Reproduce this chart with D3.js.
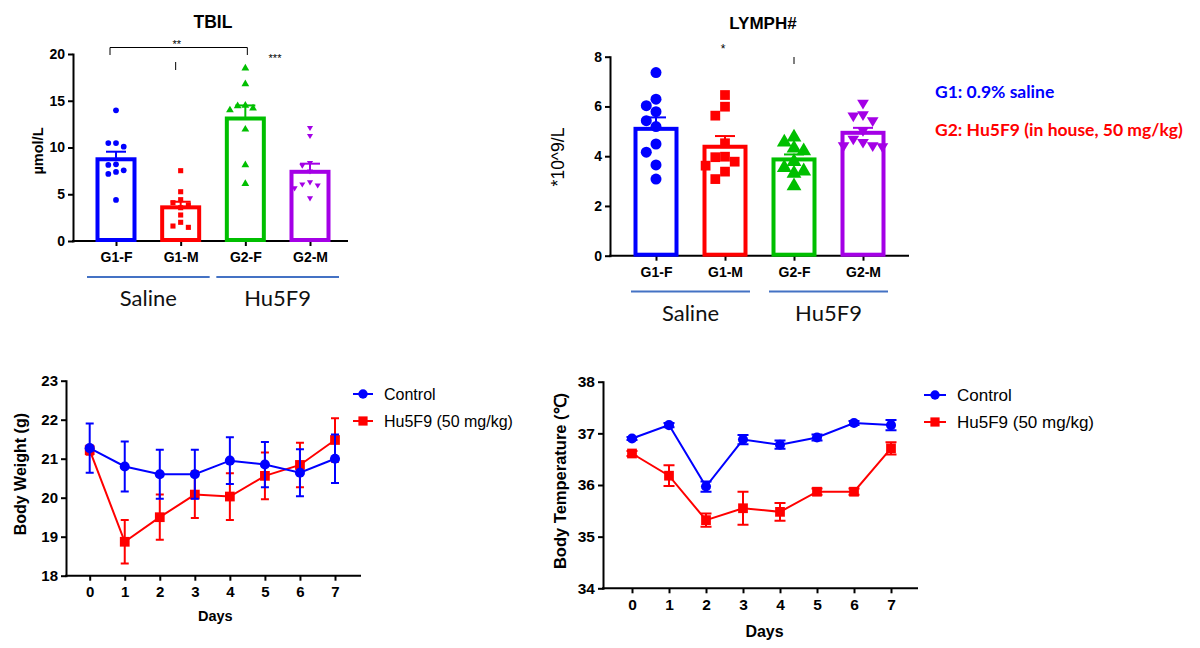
<!DOCTYPE html>
<html><head><meta charset="utf-8">
<script src="https://cdn.jsdelivr.net/npm/d3@7/dist/d3.min.js"></script>
<style>body{margin:0;background:#fff}svg{display:block}</style>
</head><body>
<svg id="c" width="1200" height="648"></svg>
<script>
// ---------- DATA ----------
const groups = ["G1-F", "G1-M", "G2-F", "G2-M"];
const treatGroups = ["Saline", "Hu5F9"];

const tbilMean = [8.74, 3.6, 13.1, 7.4];
const tbilSemTop = [9.55, 4.2, 14.5, 8.27];
const tbilG1F = [13.98, 10.48, 10.48, 10.09, 8.13, 8.2, 7.38, 7.56, 7.17, 4.39];
const tbilG1M = [7.52, 5.27, 4.42, 3.85, 4.1, 3.56, 2.78, 2.0, 1.6, 1.46];
const tbilG2F = [18.47, 16.79, 14.5, 14.44, 14.0, 14.19, 11.94, 8.13, 6.13];
const tbilG2M = [12.05, 11.2, 8.3, 8.02, 7.41, 6.02, 6.24, 5.91, 5.6, 4.53];
const tbilTicks = [0, 5, 10, 15, 20];

const lymMean = [5.1, 4.38, 3.87, 4.94];
const lymSemTop = [5.56, 4.81, 4.07, 5.14];
const lymG1F = [7.36, 6.03, 6.29, 5.79, 5.43, 5.19, 4.49, 4.16, 3.65, 3.08];
const lymG1M = [6.46, 5.99, 5.63, 4.52, 3.98, 3.62, 3.96, 3.08, 3.78, 3.38];
const lymG2F = [4.56, 4.76, 4.32, 4.21, 3.78, 3.54, 3.4, 3.31, 2.8];
const lymG2M = [6.09, 5.39, 5.58, 5.63, 4.99, 4.65, 4.38, 4.38, 4.52, 4.34];
const lymTicks = [0, 2, 4, 6, 8];

const days = [0, 1, 2, 3, 4, 5, 6, 7];
const seriesNames = ["Control", "Hu5F9 (50 mg/kg)"];
const bwControl = [21.27, 20.8, 20.6, 20.6, 20.95, 20.85, 20.64, 21.0];
const bwControlSem = [0.63, 0.64, 0.63, 0.63, 0.6, 0.58, 0.6, 0.62];
const bwHu5F9 = [21.22, 18.87, 19.5, 20.08, 20.03, 20.56, 20.84, 21.48];
const bwHu5F9Sem = [0.12, 0.56, 0.58, 0.6, 0.6, 0.6, 0.57, 0.56];
const bwTicks = [18, 19, 20, 21, 22, 23];

const tempControl = [36.9, 37.16, 35.97, 36.88, 36.78, 36.92, 37.2, 37.16];
const tempControlSem = [0.03, 0.04, 0.1, 0.09, 0.08, 0.06, 0.04, 0.1];
const tempHu5F9 = [36.61, 36.18, 35.32, 35.55, 35.48, 35.87, 35.87, 36.71];
const tempHu5F9Sem = [0.05, 0.2, 0.13, 0.32, 0.17, 0.06, 0.06, 0.12];
const tempTicks = [34, 35, 36, 37, 38];

const noteG1 = "G1: 0.9% saline";
const noteG2 = "G2: Hu5F9 (in house, 50 mg/kg)";

// ---------- STYLE ----------
const groupColors = ["#0000ff", "#ff0000", "#00bf00", "#a400e6"];
const lineColors = ["#0000ff", "#ff0000"];
const AX = "'Liberation Sans', Arial, sans-serif";
const svg = d3.select("#c");

function triDown(size) {
  const p = d3.path(); const s = Math.sqrt(size);
  const h = s * 0.9;
  p.moveTo(-s * 0.6, -h * 0.5); p.lineTo(s * 0.6, -h * 0.5); p.lineTo(0, h * 0.6); p.closePath();
  return p.toString();
}
const shapes = [d3.symbolCircle, d3.symbolSquare, d3.symbolTriangle, null];
function symPath(i, size) {
  if (i === 3) return triDown(size);
  return d3.symbol().type(shapes[i]).size(size)();
}

function swarm(values, y, d, step) {
  const order = values.map((v, i) => i).sort((a, b) => values[b] - values[a]);
  const placed = [], xs = new Array(values.length);
  for (const i of order) {
    const py = y(values[i]);
    for (const k of [0, -1, 1, -2, 2, -3, 3, -4, 4]) {
      const px = k * step;
      if (placed.every(p => Math.hypot(p.x - px, p.y - py) >= d)) { xs[i] = px; placed.push({x: px, y: py}); break; }
    }
  }
  return xs;
}

function styleAxis(g, fs) {
  g.selectAll("path,line").attr("stroke", "#000").attr("stroke-width", 2);
  g.selectAll("text").attr("font-family", AX).attr("font-weight", "bold").attr("font-size", fs).attr("fill", "#000");
  g.select(".domain").attr("stroke-linecap", "square");
}

// ---------- BAR PANEL ----------
function barPanel(o) {
  const g = svg.append("g");
  const y = d3.scaleLinear().domain([o.ticks[0], o.ticks[o.ticks.length - 1]]).range([o.y0, o.y1]);
  const x = d3.scalePoint().domain(groups).range([o.c0, o.c1]);
  const ya = g.append("g").attr("transform", `translate(${o.ax},0)`)
    .call(d3.axisLeft(y).tickValues(o.ticks).tickSize(5).tickPadding(3).tickSizeOuter(0));
  styleAxis(ya, o.fs);
  const xa = g.append("g").attr("transform", `translate(0,${o.y0})`)
    .call(d3.axisBottom(x).tickSize(5).tickPadding(6).tickSizeOuter(0));
  xa.select(".domain").attr("d", `M${o.ax},0H${o.axEnd}`);
  styleAxis(xa, o.fs);
  o.means.forEach((m, i) => {
    const cx = x(groups[i]);
    g.append("rect").attr("x", cx - o.bw / 2 + 2).attr("y", y(m))
      .attr("width", o.bw - 4).attr("height", y(0) - y(m) - 1)
      .attr("fill", "none").attr("stroke", groupColors[i]).attr("stroke-width", 4);
  });
  o.pts.forEach((vals, i) => {
    const cx = x(groups[i]);
    const xs = swarm(vals, y, o.d, o.step);
    vals.forEach((v, j) => {
      g.append("path").attr("d", symPath(i, o.msize))
        .attr("transform", `translate(${cx + xs[j]},${y(v)})`).attr("fill", groupColors[i]);
    });
  });
  o.sems.forEach((s, i) => {
    const cx = x(groups[i]);
    g.append("line").attr("x1", cx).attr("x2", cx).attr("y1", y(o.means[i])).attr("y2", y(s))
      .attr("stroke", groupColors[i]).attr("stroke-width", 2);
    g.append("line").attr("x1", cx - 10).attr("x2", cx + 10).attr("y1", y(s)).attr("y2", y(s))
      .attr("stroke", groupColors[i]).attr("stroke-width", 2);
  });
  g.append("text").attr("x", o.tx).attr("y", o.ty).attr("text-anchor", "middle")
    .attr("font-family", AX).attr("font-weight", "bold").attr("font-size", o.tfs).text(o.title);
  g.append("text").attr("transform", `translate(${o.ylx},${o.yly}) rotate(-90)`).attr("text-anchor", "middle")
    .attr("font-family", AX).attr("font-weight", o.ylw).attr("font-size", o.ylfs).text(o.ylabel);
  [[0, 1], [2, 3]].forEach((pair, k) => {
    const xa0 = x(groups[pair[0]]) - o.lineExt, xa1 = x(groups[pair[1]]) + o.lineExt;
    g.append("line").attr("x1", xa0).attr("x2", xa1).attr("y1", o.ly).attr("y2", o.ly)
      .attr("stroke", "#4472c4").attr("stroke-width", 2);
    g.append("text").attr("x", (xa0 + xa1) / 2).attr("y", o.ly + 29).attr("text-anchor", "middle")
      .attr("font-family", "Lato, 'Open Sans', sans-serif").attr("font-size", 22).attr("fill", "#111").text(treatGroups[k]);
  });
  return {g, x, y};
}

const tb = barPanel({
  ticks: tbilTicks, y0: 241, y1: 54, ax: 73, axEnd: 347, c0: 116, c1: 310,
  means: tbilMean, sems: tbilSemTop, pts: [tbilG1F, tbilG1M, tbilG2F, tbilG2M],
  bw: 41, msize: 26, d: 6.2, step: 7.7, fs: 14, title: "TBIL", tx: 213, ty: 28, tfs: 17.5,
  ylabel: "µmol/L", ylx: 43, yly: 151, ylw: "bold", ylfs: 14.5, ly: 277, lineExt: 29
});
{
  const g = tb.g, x = tb.x;
  const xa = x("G1-F") - 6, xb = x("G2-F") + 2;
  g.append("path").attr("d", `M${xa},55V47.5H${xb}V55`).attr("fill", "none").attr("stroke", "#000").attr("stroke-width", 1);
  g.append("text").attr("x", (xa + xb) / 2 - 2).attr("y", 48).attr("text-anchor", "middle")
    .attr("font-family", AX).attr("font-size", 11).text("**");
  g.append("line").attr("x1", x("G1-M") - 5).attr("x2", x("G1-M") - 5).attr("y1", 62).attr("y2", 70).attr("stroke", "#000").attr("stroke-width", 1);
  g.append("text").attr("x", x("G2-M") - 35).attr("y", 62).attr("text-anchor", "middle")
    .attr("font-family", AX).attr("font-size", 11).text("***");
}

const ly = barPanel({
  ticks: lymTicks, y0: 255.7, y1: 56.7, ax: 610, axEnd: 908, c0: 656, c1: 863,
  means: lymMean, sems: lymSemTop, pts: [lymG1F, lymG1M, lymG2F, lymG2M],
  bw: 45, msize: 95, d: 9.5, step: 9.7, fs: 14, title: "LYMPH#", tx: 763, ty: 29, tfs: 17,
  ylabel: "*10^9/L", ylx: 564, yly: 157, ylw: "normal", ylfs: 17.5, ly: 291.5, lineExt: 25
});
{
  const g = ly.g, x = ly.x;
  g.append("text").attr("x", x("G1-M") - 2).attr("y", 53).attr("text-anchor", "middle")
    .attr("font-family", AX).attr("font-size", 12).text("*");
  g.append("line").attr("x1", x("G2-F")).attr("x2", x("G2-F")).attr("y1", 57).attr("y2", 64).attr("stroke", "#000").attr("stroke-width", 1);
}

svg.append("text").attr("x", 935).attr("y", 98).attr("font-family", "Lato, sans-serif").attr("font-weight", "bold")
  .attr("font-size", 17.5).attr("fill", "#0000ff").text(noteG1);
svg.append("text").attr("x", 935).attr("y", 136).attr("font-family", "Lato, sans-serif").attr("font-weight", "bold")
  .attr("font-size", 17.5).attr("fill", "#ff0000").text(noteG2);

// ---------- LINE PANEL ----------
function linePanel(o) {
  const g = svg.append("g");
  const x = d3.scaleLinear().domain([days[0], days[days.length - 1]]).range([o.x0, o.x1]);
  const y = d3.scaleLinear().domain([o.ticks[0], o.ticks[o.ticks.length - 1]]).range([o.yb, o.yt]);
  const ya = g.append("g").attr("transform", `translate(${o.ax},0)`)
    .call(d3.axisLeft(y).tickValues(o.ticks).tickFormat(d3.format("d")).tickSize(5).tickPadding(3).tickSizeOuter(0));
  styleAxis(ya, o.fs);
  const xa = g.append("g").attr("transform", `translate(0,${o.yb})`)
    .call(d3.axisBottom(x).tickValues(days).tickFormat(d3.format("d")).tickSize(5).tickPadding(6).tickSizeOuter(0));
  xa.select(".domain").attr("d", `M${o.ax},0H${o.axEnd}`);
  styleAxis(xa, o.fs);
  g.append("text").attr("x", (o.x0 + o.x1) / 2 + 3).attr("y", o.xty).attr("text-anchor", "middle")
    .attr("font-family", AX).attr("font-weight", "bold").attr("font-size", o.dfs).text("Days");
  g.append("text").attr("transform", `translate(${o.ytx},${(o.yb + o.yt) / 2 - 4}) rotate(-90)`).attr("text-anchor", "middle")
    .attr("font-family", AX).attr("font-weight", "bold").attr("font-size", o.yfs).text(o.ylabel);
  const sets = [[o.c, o.cs], [o.h, o.hs]];
  [1, 0].forEach(k => {
    const [vals, sems] = sets[k];
    const col = lineColors[k];
    g.append("path").datum(vals).attr("fill", "none").attr("stroke", col).attr("stroke-width", 2)
      .attr("d", d3.line().x((d, i) => x(days[i])).y(d => y(d)));
    vals.forEach((v, i) => {
      const cx = x(days[i]);
      const t = y(v + sems[i]), b = y(v - sems[i]);
      g.append("path").attr("d", `M${cx},${t}V${b}M${cx - o.cap},${t}H${cx + o.cap}M${cx - o.cap},${b}H${cx + o.cap}`)
        .attr("stroke", col).attr("stroke-width", 2).attr("fill", "none");
      g.append("path").attr("d", d3.symbol().type(k ? d3.symbolSquare : d3.symbolCircle).size(k ? 95 : 80)())
        .attr("transform", `translate(${cx},${y(v)})`).attr("fill", col);
    });
  });
  seriesNames.forEach((n, k) => {
    const yy = o.legY + k * 27;
    g.append("line").attr("x1", o.legX).attr("x2", o.legX + o.legW).attr("y1", yy).attr("y2", yy)
      .attr("stroke", lineColors[k]).attr("stroke-width", 2);
    g.append("path").attr("d", d3.symbol().type(k ? d3.symbolSquare : d3.symbolCircle).size(k ? 85 : 70)())
      .attr("transform", `translate(${o.legX + o.legW / 2},${yy})`).attr("fill", lineColors[k]);
    g.append("text").attr("x", o.legTx).attr("y", yy + 5.5).attr("font-family", AX)
      .attr("font-size", o.lfs).text(n);
  });
}

linePanel({
  x0: 89.7, x1: 335, yb: 575.7, yt: 380.7, ax: 66, axEnd: 360, ticks: bwTicks,
  c: bwControl, cs: bwControlSem, h: bwHu5F9, hs: bwHu5F9Sem, fs: 15, dfs: 14.5, yfs: 16, cap: 4,
  xty: 621, ytx: 26, ylabel: "Body Weight (g)", legX: 353, legW: 20, legTx: 384, legY: 394, lfs: 16
});
linePanel({
  x0: 632, x1: 891, yb: 588.3, yt: 381.7, ax: 603, axEnd: 917, ticks: tempTicks,
  c: tempControl, cs: tempControlSem, h: tempHu5F9, hs: tempHu5F9Sem, fs: 15.5, dfs: 16, yfs: 16.5, cap: 5.5,
  xty: 637, ytx: 566, ylabel: "Body Temperature (℃)", legX: 924, legW: 22, legTx: 957, legY: 395, lfs: 17
});
</script>
</body></html>
